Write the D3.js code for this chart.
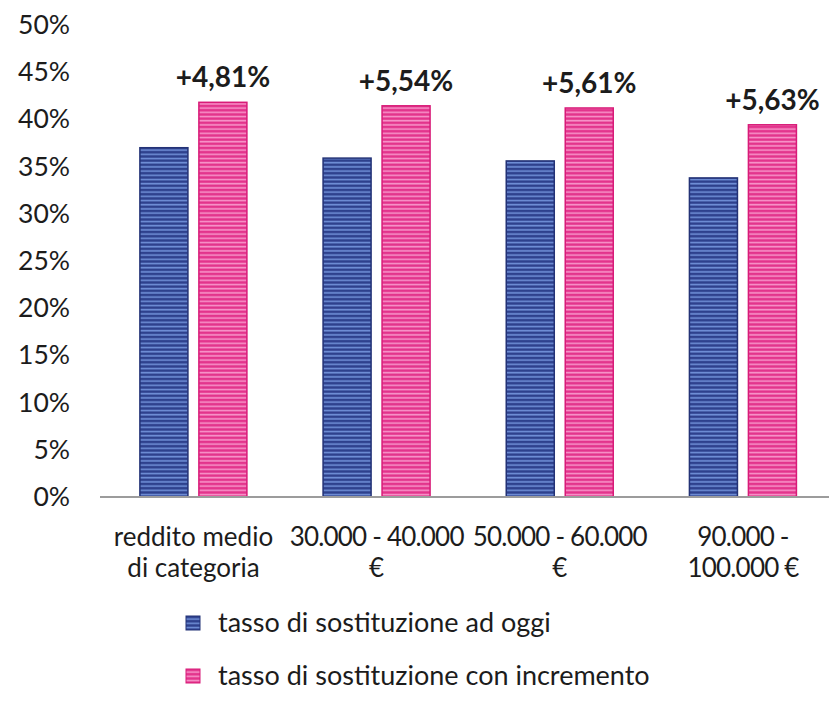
<!DOCTYPE html>
<html>
<head>
<meta charset="utf-8">
<script src="https://cdn.jsdelivr.net/npm/d3@7"></script>
<style>
  html, body { margin: 0; padding: 0; background: #fff; }
  svg { display: block; }
</style>
</head>
<body>
<svg id="chart" width="829" height="701"></svg>
<script>
const categories = [
  ["reddito medio", "di categoria"],
  ["30.000 - 40.000", "€"],
  ["50.000 - 60.000", "€"],
  ["90.000 -", "100.000 €"]
];
const seriesNames = ["tasso di sostituzione ad oggi", "tasso di sostituzione con incremento"];
const valuesToday = [37.0, 35.9, 35.6, 33.8];
const valuesIncrement = [41.81, 41.44, 41.21, 39.43];
const increaseLabels = ["+4,81%", "+5,54%", "+5,61%", "+5,63%"];
const yTicks = [0, 5, 10, 15, 20, 25, 30, 35, 40, 45, 50];

const svg = d3.select("#chart");
const font = "Lato, 'Open Sans', sans-serif";
const textColor = "#1c1c1c";

const defs = svg.append("defs");
function stripes(id, dark, light) {
  const p = defs.append("pattern").attr("id", id)
    .attr("patternUnits", "userSpaceOnUse").attr("width", 8).attr("height", 4.2);
  p.append("rect").attr("width", 8).attr("height", 4.2).attr("fill", dark);
  p.append("rect").attr("y", 2.3).attr("width", 8).attr("height", 1.6).attr("fill", light);
}
stripes("pBlue", "#2e418d", "#7090d8");
stripes("pPink", "#e3348c", "#f794c9");
const fills = ["url(#pBlue)", "url(#pPink)"];
const strokes = ["#233276", "#d81b78"];

const y = d3.scaleLinear().domain([0, 50]).range([497, 25]);
const x0 = d3.scaleBand().domain(d3.range(categories.length)).range([101.9, 834.6]).padding(0);
const x1 = d3.scaleBand().domain([0, 1]).range([38, 145]).paddingInner(0.186).paddingOuter(0);

// y tick labels
svg.append("g").selectAll("text").data(yTicks).join("text")
  .attr("x", 70).attr("y", d => y(d) + 9)
  .attr("text-anchor", "end")
  .attr("font-family", font).attr("font-size", 26.5).attr("fill", textColor)
  .text(d => d + "%");

// bars
const data = categories.map((c, i) => ({ i, vals: [valuesToday[i], valuesIncrement[i]] }));
const groups = svg.append("g").selectAll("g").data(data).join("g")
  .attr("transform", d => `translate(${x0(d.i)},0)`);
groups.selectAll("rect").data(d => d.vals.map((v, s) => ({ v, s }))).join("rect")
  .attr("x", d => x1(d.s)).attr("width", x1.bandwidth())
  .attr("y", d => y(d.v)).attr("height", d => y(0) - y(d.v))
  .attr("fill", d => fills[d.s]).attr("stroke", d => strokes[d.s]).attr("stroke-width", 1.5);

// axis line
svg.append("line").attr("x1", 100).attr("x2", 829).attr("y1", y(0)).attr("y2", y(0))
  .attr("stroke", "#9c9c9c").attr("stroke-width", 2);

// data labels
groups.append("text")
  .attr("x", x1(1) + x1.bandwidth() / 2)
  .attr("y", d => y(valuesIncrement[d.i]) - 15)
  .attr("text-anchor", "middle")
  .attr("font-family", font).attr("font-weight", "bold").attr("font-size", 28).attr("fill", textColor)
  .text(d => increaseLabels[d.i]);

// category labels
const cat = svg.append("g").selectAll("text").data(categories).join("text")
  .attr("x", (d, i) => x0(i) + x0.bandwidth() / 2)
  .attr("text-anchor", "middle")
  .attr("font-family", font).attr("font-size", 26).attr("fill", textColor);
cat.selectAll("tspan").data(d => d).join("tspan")
  .attr("x", function () { return this.parentNode.getAttribute("x"); })
  .attr("y", (d, j) => 546 + j * 31)
  .attr("letter-spacing", d => /\d/.test(d) ? -0.8 : 0)
  .text(d => d);

// legend
const legend = svg.append("g").selectAll("g").data(seriesNames).join("g")
  .attr("transform", (d, i) => `translate(186,${616 + i * 53})`);
legend.append("rect").attr("width", 14).attr("height", 14)
  .attr("fill", (d, i) => fills[i]).attr("stroke", (d, i) => strokes[i]).attr("stroke-width", 1);
legend.append("text").attr("x", 32).attr("y", 16)
  .attr("font-family", font).attr("font-size", 27).attr("fill", textColor)
  .text(d => d);
</script>
</body>
</html>
